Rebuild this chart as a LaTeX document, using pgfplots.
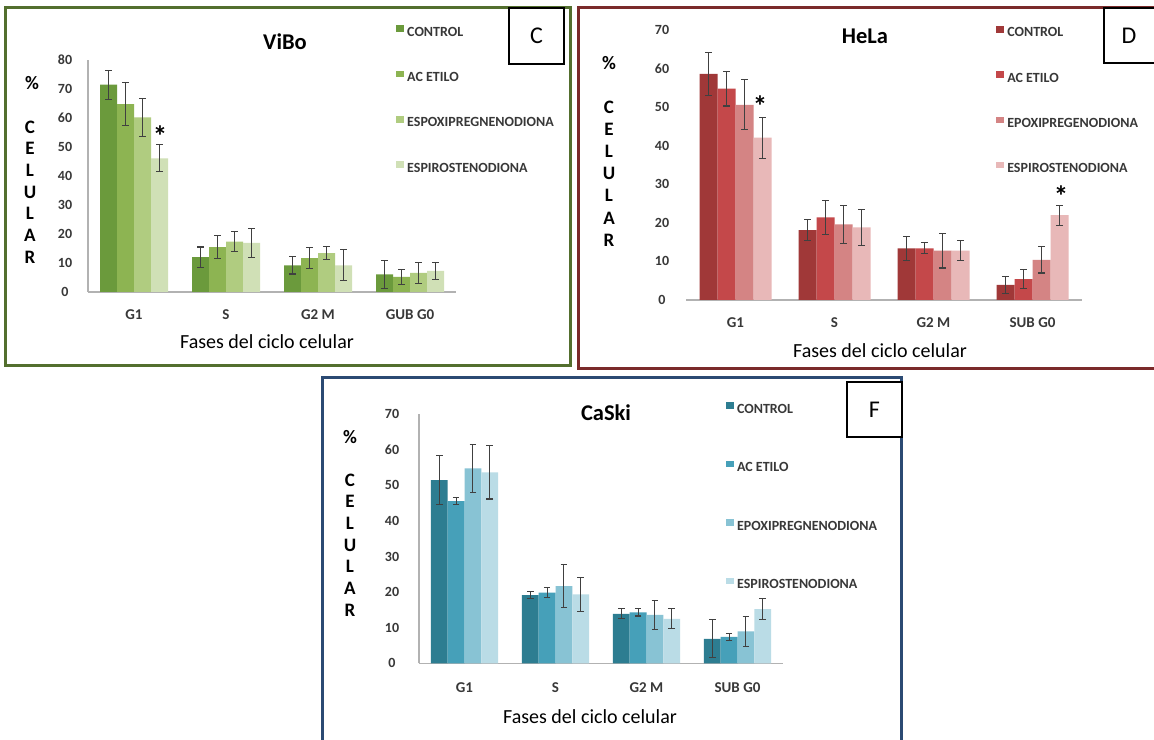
\documentclass[border=0pt]{standalone}
\usepackage{pgfplots}
\pgfplotsset{compat=1.18}
\usepackage{fontspec}
\setmainfont{Carlito}
\definecolor{cA}{HTML}{6B9A3C}
\definecolor{cB}{HTML}{8DB452}
\definecolor{cC}{HTML}{B0CC80}
\definecolor{cD}{HTML}{D0E0B6}
\definecolor{dA}{HTML}{A03838}
\definecolor{dB}{HTML}{C4484A}
\definecolor{dC}{HTML}{D48484}
\definecolor{dD}{HTML}{E8B8B8}
\definecolor{fA}{HTML}{2D7D91}
\definecolor{fB}{HTML}{46A0B9}
\definecolor{fC}{HTML}{88C3D4}
\definecolor{fD}{HTML}{BADCE6}
\definecolor{frG}{HTML}{536F2E}
\definecolor{frD}{HTML}{7A2A2A}
\definecolor{frF}{HTML}{2B4A73}
\definecolor{txt}{HTML}{383838}
\pgfplotsset{
  panel/.style={
    scale only axis, ybar, xmin=-0.5, xmax=3.5, ymin=0,
    axis x line*=bottom, axis y line*=left,
    axis line style={draw=gray!60, line width=1.2pt},
    xtick={0,1,2,3}, ytick distance=10,
    major tick length=0pt, tick style={draw=none},
    /pgf/number format/assume math mode=true,
    yticklabel style={font=\bfseries\fontsize{14}{14}\selectfont, text=txt, anchor=center},
    xticklabel style={font=\bfseries\fontsize{15}{15}\selectfont, text=txt, anchor=center},
    error bars/y dir=both, error bars/y explicit,
    error bars/error mark=|,
    error bars/error bar style={line width=1.1pt, draw=black!75},
    error bars/error mark options={line width=1.1pt, mark size=3.3pt, draw=black!75},
    legend image code/.code={\fill[##1,draw=none] (0pt,0.5pt) rectangle (8pt,7pt);},
    legend cell align=left,
    legend style={draw=none, fill=none, anchor=north west, inner sep=0pt,
      nodes={inner sep=0pt, text=txt, font=\bfseries\fontsize{14}{14}\selectfont},
      /tikz/every odd column/.append style={column sep=3pt}},
  }
}
\begin{document}
\begin{tikzpicture}[x=1pt,y=1pt]
\useasboundingbox (0,0) rectangle (1154,739);
\fill[white] (0,0) rectangle (1154,739);
% frames
\draw[frG, line width=3pt] (5,731) rectangle (570,373);
\draw[frD, line width=3pt] (578,731) rectangle (1160,370);
\draw[frF, line width=3pt] (322,361) rectangle (901,-10);

% ---------------- C: ViBo
\begin{axis}[panel, at={(88pt,447pt)}, anchor=south west,
  width=368pt, height=232pt, ymax=80, bar width=17pt,
  xticklabels={G1,S,G2 M,GUB G0},
  yticklabel style={xshift=-23pt}, xticklabel style={yshift=-23pt},
  legend style={at={(0.837,1.15)}, row sep=33pt}]
\addplot[fill=cA, draw=none, bar shift=-25.5pt] coordinates {(0,71.5)+-(0,5) (1,12)+-(0,3.5) (2,9.2)+-(0,3) (3,6.1)+-(0,4.8)};
\addplot[fill=cB, draw=none, bar shift=-8.5pt] coordinates {(0,64.8)+-(0,7.5) (1,15.5)+-(0,3.9) (2,11.7)+-(0,3.6) (3,5.2)+-(0,2.7)};
\addplot[fill=cC, draw=none, bar shift=8.5pt] coordinates {(0,60.2)+-(0,6.5) (1,17.4)+-(0,3.4) (2,13.4)+-(0,2.2) (3,6.6)+-(0,3.7)};
\addplot[fill=cD, draw=none, bar shift=25.5pt] coordinates {(0,46.1)+-(0,4.7) (1,16.9)+-(0,4.9) (2,9.2)+-(0,5.3) (3,7.3)+-(0,2.9)};
\legend{CONTROL,AC ETILO,ESPOXIPREGNENODIONA,ESPIROSTENODIONA}
\end{axis}

% ---------------- D: HeLa
\begin{axis}[panel, at={(686pt,439pt)}, anchor=south west,
  width=396pt, height=270pt, ymax=70, bar width=18pt,
  y axis line style={draw=none},
  xticklabels={G1,S,G2 M,SUB G0},
  yticklabel style={xshift=-24pt}, xticklabel style={yshift=-23pt},
  legend style={at={(0.783,1.015)}, row sep=32.9pt}]
\addplot[fill=dA, draw=none, bar shift=-27pt] coordinates {(0,58.6)+-(0,5.6) (1,18.1)+-(0,2.7) (2,13.4)+-(0,3.1) (3,3.9)+-(0,2.2)};
\addplot[fill=dB, draw=none, bar shift=-9pt] coordinates {(0,54.8)+-(0,4.5) (1,21.4)+-(0,4.5) (2,13.4)+-(0,1.4) (3,5.4)+-(0,2.4)};
\addplot[fill=dC, draw=none, bar shift=9pt] coordinates {(0,50.6)+-(0,6.5) (1,19.6)+-(0,5) (2,12.8)+-(0,4.5) (3,10.4)+-(0,3.4)};
\addplot[fill=dD, draw=none, bar shift=27pt] coordinates {(0,42.1)+-(0,5.3) (1,18.8)+-(0,4.6) (2,12.8)+-(0,2.6) (3,22)+-(0,2.6)};
\legend{CONTROL,AC ETILO,EPOXIPREGENODIONA,ESPIROSTENODIONA}
\end{axis}

% ---------------- F: CaSki
\begin{axis}[panel, at={(419pt,75.7pt)}, anchor=south west,
  width=364pt, height=249pt, ymax=70, bar width=16.8pt,
  xticklabels={G1,S,G2 M,SUB G0},
  yticklabel style={xshift=-27pt}, xticklabel style={yshift=-24pt},
  legend style={at={(0.843,1.049)}, row sep=46.1pt}]
\addplot[fill=fA, draw=none, bar shift=-25.2pt] coordinates {(0,51.5)+-(0,6.8) (1,19.2)+-(0,1.1) (2,13.9)+-(0,1.4) (3,6.9)+-(0,5.3)};
\addplot[fill=fB, draw=none, bar shift=-8.4pt] coordinates {(0,45.6)+-(0,1) (1,19.9)+-(0,1.3) (2,14.3)+-(0,1) (3,7.4)+-(0,0.9)};
\addplot[fill=fC, draw=none, bar shift=8.4pt] coordinates {(0,54.8)+-(0,6.7) (1,21.7)+-(0,6) (2,13.6)+-(0,4) (3,9)+-(0,4.2)};
\addplot[fill=fD, draw=none, bar shift=25.2pt] coordinates {(0,53.7)+-(0,7.5) (1,19.4)+-(0,4.8) (2,12.5)+-(0,2.8) (3,15.2)+-(0,3)};
\legend{CONTROL,AC ETILO,EPOXIPREGNENODIONA,ESPIROSTENODIONA}
\end{axis}

% titles
\node[font=\bfseries\fontsize{22.5}{22.5}\selectfont] at (285,739-42) {ViBo};
\node[font=\bfseries\fontsize{22.5}{22.5}\selectfont] at (865,739-36) {HeLa};
\node[font=\bfseries\fontsize{22.5}{22.5}\selectfont] at (606,739-413) {CaSki};
% x labels
\node[font=\fontsize{20}{20}\selectfont] at (267,739-342) {Fases del ciclo celular};
\node[font=\fontsize{20}{20}\selectfont] at (880,739-351) {Fases del ciclo celular};
\node[font=\fontsize{20}{20}\selectfont] at (590,739-717) {Fases del ciclo celular};
% y labels
\begin{scope}[every node/.style={font=\bfseries\fontsize{19}{19}\selectfont}]
\node at (32,739-83) {\%};
\foreach \l [count=\i from 0] in {C,E,L,U,L,A,R} \node at (30,739-127-21.7*\i) {\l};
\node at (609,739-63) {\%};
\foreach \l [count=\i from 0] in {C,E,L,U,L,A,R} \node at (609,739-107-22.2*\i) {\l};
\node at (350,739-437) {\%};
\foreach \l [count=\i from 0] in {C,E,L,U,L,A,R} \node at (350,739-480-21.7*\i) {\l};
\end{scope}
% stars
\begin{scope}[every node/.style={font=\bfseries\fontsize{29}{29}\selectfont, anchor=north, inner sep=0pt}]
\node at (160,739-126) {*};
\node at (760,739-96) {*};
\node at (1061,739-186) {*};
\end{scope}
% letter boxes
\begin{scope}[every node/.style={font=\fontsize{24}{24}\selectfont}]
\draw[fill=white, line width=1.3pt] (509,739-8) rectangle (564,739-64);
\node at (536.5,739-36) {C};
\draw[fill=white, line width=1.3pt] (1104,739-8) rectangle (1160,739-63);
\node at (1129,739-36) {D};
\draw[fill=white, line width=1.3pt] (847,739-382) rectangle (902,739-437);
\node at (874.5,739-409.5) {F};
\end{scope}
\end{tikzpicture}
\end{document}
